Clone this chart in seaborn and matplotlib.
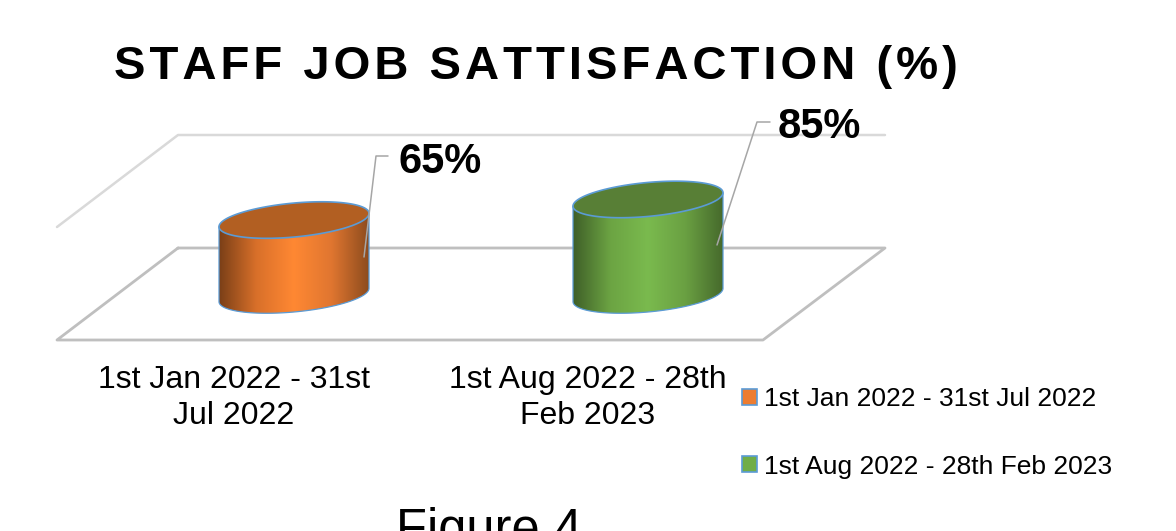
import numpy as np
import matplotlib
matplotlib.use("Agg")
import matplotlib.pyplot as plt
import seaborn as sns
from matplotlib.patches import Patch, Polygon
from matplotlib.transforms import Affine2D
from matplotlib.colors import LinearSegmentedColormap

categories = ["1st Jan 2022 - 31st Jul 2022", "1st Aug 2022 - 28th Feb 2023"]
tick_labels = ["1st Jan 2022 - 31st\nJul 2022", "1st Aug 2022 - 28th\nFeb 2023"]
values = [65, 85]
title = "STAFF JOB SATTISFACTION (%)"

colors = ["#ed7d31", "#70ad47"]
top_colors = ["#b25f22", "#587f36"]
shades = [["#7a3f17", "#d9702a", "#ff8833", "#e07630", "#8d4c1e"],
          ["#3f5f28", "#6ca443", "#7aba4e", "#6aa042", "#466a2c"]]
edge = "#5b9bd5"

W, H = 1176, 531
sns.set_theme(style="white")
plt.rcParams["font.family"] = ["Liberation Sans", "DejaVu Sans"]

fig = plt.figure(figsize=(W / 100, H / 100), dpi=100)
# axes stop at the front edge of the floor so tick labels sit below it
ax = fig.add_axes([0, (H - 340) / H, 1, 340 / H])
ax.patch.set_alpha(0)
px = Affine2D().scale(1 / W, -1 / H).translate(0, 1) + fig.transFigure

# scale of the chart, px per unit
x_scale = 354
y_scale = 1.03
zero_y = 287
x0 = 294
drop = 8 / y_scale

sns.barplot(x=categories, y=values, hue=categories, palette=colors, width=150 / x_scale,
            legend=False, ax=ax, zorder=2)


def ellipse(cx, cy, half):
    # tilted top of the cylinder, in data units
    t = np.linspace(0, 2 * np.pi, 200)
    return np.column_stack([cx + half * np.cos(t),
                            cy + (6.7 * np.cos(t) + 17 * np.sin(t)) / y_scale])


for i, bar in enumerate(ax.patches[:len(values)]):
    cx = bar.get_x() + bar.get_width() / 2
    half = bar.get_width() / 2
    top = bar.get_height()
    base = -drop

    # body = outline of lower half of bottom ellipse plus top level
    lower = ellipse(cx, base, half)
    t_low = lower[100:]
    body_pts = np.vstack([[[cx - half, top + -6.7 / y_scale]], t_low, [[cx + half, top + 6.7 / y_scale]]])
    body = Polygon(body_pts, closed=True, transform=ax.transData, facecolor="none",
                   edgecolor=edge, linewidth=0.9, zorder=4)
    ax.add_patch(body)
    bar.set_clip_path(body)

    cmap = LinearSegmentedColormap.from_list("c", shades[i])
    grad = np.linspace(0, 1, 256).reshape(1, -1)
    im = ax.imshow(grad, cmap=cmap, aspect="auto", zorder=3,
                   extent=[cx - half, cx + half, base - 30, top + 30])
    im.set_clip_path(body)

    cap = Polygon(ellipse(cx, top, half), closed=True, facecolor=top_colors[i],
                  edgecolor=edge, linewidth=1.2, zorder=5)
    ax.add_patch(cap)

ax.set_xlim(-x0 / x_scale, (W - x0) / x_scale)
ax.set_ylim(-(340 - zero_y) / y_scale, zero_y / y_scale)
ax.set_xticks(np.arange(len(values)) - 60 / x_scale, tick_labels, fontsize=23, color="black",
              linespacing=1.26)
ax.tick_params(axis="x", length=0, pad=18)
ax.set_yticks([])
ax.set_xlabel("")
sns.despine(ax=ax, left=True, bottom=True, top=True, right=True)

# floor and back wall of the 3d chart
ax.plot([178, 57, 763, 885, 178], [248, 340, 340, 248, 248], transform=px, color="#bfbfbf",
        lw=2, clip_on=False, zorder=1)
ax.plot([57, 178, 885], [227, 135, 135], transform=px, color="#d9d9d9", lw=1.8,
        clip_on=False, zorder=1)

# value labels with leader lines
label_xy = [(398, 173), (778, 138)]
leaders = [([364, 376, 388], [257, 156, 156]), ([717, 757, 770], [245, 122, 122])]
for v, (lx, ly), (xs, ys) in zip(values, label_xy, leaders):
    ax.plot(xs, ys, transform=px, color="#a6a6a6", lw=1.1, clip_on=False, zorder=6)
    ax.text(lx, ly, f"{v}%", transform=px, fontsize=30, fontweight="bold", color="black",
            ha="left", va="baseline", clip_on=False, zorder=7)

ax.text(114, 79, "\u200a".join(title), transform=px, fontsize=34, fontweight="bold", color="black",
        ha="left", va="baseline")
ax.text(396, 545, "Figure 4", transform=px, fontsize=36.5, color="black", ha="left", va="baseline",
        clip_on=False)

handles = [Patch(facecolor=c, edgecolor=edge, linewidth=1.2, label=n) for c, n in zip(colors, categories)]
ax.legend(handles=handles, loc="upper left", frameon=False, fontsize=19, labelcolor="black",
          handlelength=0.55, handleheight=0.55, handletextpad=0.28,
          labelspacing=1.65, borderpad=0, borderaxespad=0)
ax.get_legend().set_bbox_to_anchor((742, 387), transform=px)

fig.savefig("out.png", dpi=100)
